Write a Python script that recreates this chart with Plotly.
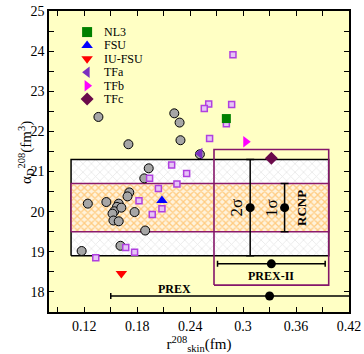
import plotly.graph_objects as go

# ---------------- data ----------------
# gray circles (other models)
circ_x = [0.136, 0.222, 0.228, 0.170, 0.229, 0.193, 0.188, 0.171, 0.169, 0.124,
          0.145, 0.159, 0.157, 0.154, 0.152, 0.153, 0.159, 0.162, 0.177, 0.189,
          0.161, 0.117, 0.251]
circ_y = [22.36, 22.45, 22.22, 21.68, 21.78, 21.08, 20.83, 20.48, 20.38, 20.20,
          20.24, 20.20, 20.12, 20.01, 19.95, 19.78, 19.76, 20.10, 19.99, 19.53,
          19.15, 19.02, 21.43]
# purple squares
sq_x = [0.2885, 0.261, 0.256, 0.287, 0.281, 0.262, 0.236, 0.219, 0.194, 0.225,
        0.204, 0.182, 0.208, 0.197, 0.167, 0.177, 0.133]
sq_y = [23.91, 22.68, 22.57, 22.67, 22.19, 21.82, 20.95, 21.16, 20.83, 20.69,
        20.58, 20.27, 20.07, 19.93, 19.11, 18.99, 18.85]

# named models
model_names = ["NL3", "FSU", "IU-FSU", "TFa", "TFb", "TFc"]
model_x = [0.281, 0.208, 0.162, 0.251, 0.303, 0.332]
model_y = [22.32, 20.28, 18.46, 21.45, 21.74, 21.33]
model_symbols = ["square", "triangle-up", "triangle-down", "triangle-left",
                 "triangle-right", "diamond"]
model_colors = ["#008000", "#0000FF", "#FF0000", "#7A2FC0", "#FF00FF", "#6A0A4A"]

# RCNP constraint (alpha_D), 2 sigma and 1 sigma
rcnp_center = 20.1
rcnp_2sig = 1.2
rcnp_1sig = 0.6
rcnp_x = [0.308, 0.347]
rcnp_err = [rcnp_2sig, rcnp_1sig]
rcnp_labels = ["2σ", "1σ"]

# PREX / PREX-II skin measurements
prex_x, prex_err, prex_y = 0.33, 0.18, 17.9
prex2_x, prex2_err, prex2_y = 0.332, 0.061, 18.7

# band extent in r_skin and PREX-II window
band_x = [0.105, 0.397]
prex2_box_x = [0.267, 0.397]
prex2_box_y = [18.17, 21.55]

# ticks
x_tickvals = [0.09, 0.12, 0.15, 0.18, 0.21, 0.24, 0.27, 0.30, 0.33, 0.36, 0.39, 0.42]
x_ticktext = ["", "0.12", "", "0.18", "", "0.24", "", "0.3", "", "0.36", "", "0.42"]
y_tickvals = [17.5, 18, 18.5, 19, 19.5, 20, 20.5, 21, 21.5, 22, 22.5, 23, 23.5, 24, 24.5, 25]
y_ticktext = ["", "18", "", "19", "", "20", "", "21", "", "22", "", "23", "", "24", "", "25"]

SERIF = "Liberation Serif"
fig = go.Figure()


def rect(x0, x1, y0, y1):
    return [x0, x1, x1, x0, x0], [y0, y0, y1, y1, y0]


# 2 sigma band (gray hatched)
bx, by = rect(band_x[0], band_x[1], rcnp_center - rcnp_2sig, rcnp_center + rcnp_2sig)
fig.add_trace(go.Scatter(x=bx, y=by, mode="lines", fill="toself", fillcolor="white",
                         fillpattern=dict(shape="x", fgcolor="#D0D0D0", bgcolor="white",
                                          size=6, solidity=0.25),
                         line=dict(color="black", width=1.5), showlegend=False,
                         hoverinfo="skip"))
# 1 sigma band (orange hatched)
bx, by = rect(band_x[0], band_x[1], rcnp_center - rcnp_1sig, rcnp_center + rcnp_1sig)
fig.add_trace(go.Scatter(x=bx, y=by, mode="lines", fill="toself", fillcolor="#FFEBC8",
                         fillpattern=dict(shape="x", fgcolor="#FFA424", bgcolor="#FFF3DC",
                                          size=5, solidity=0.45),
                         line=dict(color="#8B1A6B", width=1.5), showlegend=False,
                         hoverinfo="skip"))
# PREX-II window
bx, by = rect(prex2_box_x[0], prex2_box_x[1], prex2_box_y[0], prex2_box_y[1])
fig.add_trace(go.Scatter(x=bx, y=by, mode="lines", line=dict(color="#84166A", width=1.6),
                         showlegend=False, hoverinfo="skip"))

# gray circles
fig.add_trace(go.Scatter(x=circ_x, y=circ_y, mode="markers", showlegend=False,
                         marker=dict(symbol="circle", size=9, color="#A6A6A6",
                                     line=dict(color="black", width=1))))
# purple squares
fig.add_trace(go.Scatter(x=sq_x, y=sq_y, mode="markers", showlegend=False,
                         marker=dict(symbol="square", size=6, color="#E6C4F6",
                                     line=dict(color="#B040E0", width=1.5))))

# named models
for n, x, y, s, c in zip(model_names, model_x, model_y, model_symbols, model_colors):
    fig.add_trace(go.Scatter(x=[x], y=[y], mode="markers", name=n, showlegend=False,
                             marker=dict(symbol=s, size=10 if s != "square" else 9,
                                         color=c, line=dict(width=0))))

# RCNP points
fig.add_trace(go.Scatter(x=rcnp_x, y=[rcnp_center] * len(rcnp_x), mode="markers",
                         showlegend=False,
                         marker=dict(size=9, color="black"),
                         error_y=dict(type="data", array=rcnp_err, color="black",
                                      thickness=1.5, width=4)))
# PREX / PREX-II points
fig.add_trace(go.Scatter(x=[prex2_x, prex_x], y=[prex2_y, prex_y], mode="markers",
                         showlegend=False,
                         marker=dict(size=9, color="black"),
                         error_x=dict(type="data", array=[prex2_err, prex_err], color="black",
                                      thickness=1.5, width=3)))

# custom legend on an overlay axis (0..1)
leg_y0, leg_dy = 0.930, 0.0445
leg_y = [leg_y0 - i * leg_dy for i in range(len(model_names))]
fig.add_trace(go.Scatter(x=[0.127] * len(model_names), y=leg_y, xaxis="x2", yaxis="y2",
                         mode="markers", showlegend=False, hoverinfo="skip",
                         marker=dict(symbol=model_symbols, color=model_colors, size=10,
                                     line=dict(width=0))))
annotations = []
for n, y in zip(model_names, leg_y):
    annotations.append(dict(x=0.175, y=y, xref="x2", yref="y2", text=n, showarrow=False,
                            xanchor="left", yanchor="middle",
                            font=dict(family=SERIF, size=12, color="black")))

# text labels
for lab, x in zip(rcnp_labels, rcnp_x):
    annotations.append(dict(x=x - 0.015, y=rcnp_center, text=lab, showarrow=False,
                            textangle=-90, font=dict(family=SERIF, size=17, color="black")))
annotations.append(dict(x=0.366, y=rcnp_center, text="<b>RCNP</b>", showarrow=False,
                        textangle=-90, font=dict(family=SERIF, size=13, color="black")))
annotations.append(dict(x=prex2_x, y=18.4, text="<b>PREX-II</b>", showarrow=False,
                        font=dict(family=SERIF, size=12, color="black")))
annotations.append(dict(x=0.222, y=18.08, text="<b>PREX</b>", showarrow=False,
                        font=dict(family=SERIF, size=12, color="black")))
# y-axis title
annotations.append(dict(x=-0.115, y=0.53, xref="paper", yref="paper",
                        text="α<sub>D</sub><sup>208</sup>(fm<sup>3</sup>)", showarrow=False,
                        textangle=-90, font=dict(family=SERIF, size=15, color="black")))

axis_common = dict(showgrid=False, zeroline=False, showline=True, linecolor="black",
                   linewidth=1.5, mirror="ticks", ticks="inside", ticklen=5,
                   tickwidth=1.2, tickcolor="black", automargin=False,
                   tickfont=dict(family=SERIF, size=14, color="black"))
fig.update_layout(
    width=364, height=354,
    margin=dict(l=49, r=15, t=11, b=42),
    paper_bgcolor="white", plot_bgcolor="#FFFFC4",
    showlegend=False,
    xaxis=dict(range=[0.08, 0.42], tickmode="array", tickvals=x_tickvals,
               ticktext=x_ticktext,
               title=dict(text="r<sup>208</sup><sub>skin</sub>(fm)", standoff=0,
                          font=dict(family=SERIF, size=15, color="black")),
               **axis_common),
    yaxis=dict(range=[17.5, 25], tickmode="array", tickvals=y_tickvals,
               ticktext=y_ticktext, **axis_common),
    xaxis2=dict(range=[0, 1], overlaying="x", visible=False, fixedrange=True),
    yaxis2=dict(range=[0, 1], overlaying="y", visible=False, fixedrange=True),
    annotations=annotations,
)

fig.write_html("out.html", config={"displayModeBar": False},
               post_script="document.body.style.margin='0';")
